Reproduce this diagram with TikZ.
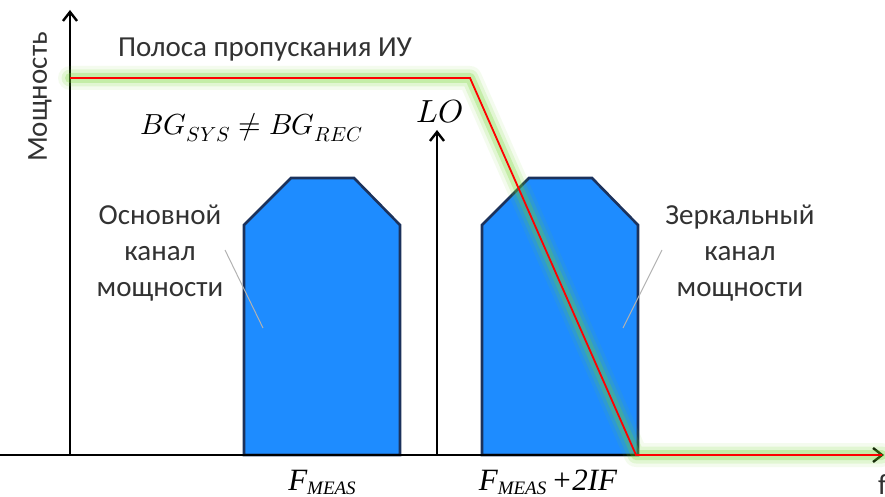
\documentclass[tikz,border=0pt]{standalone}
\usepackage{fontspec}
\usepackage{unicode-math}
\setmainfont{Liberation Serif}
\setmathfont{Latin Modern Math}
\newfontfamily\lblfont{Carlito}
\usetikzlibrary{arrows.meta}
\definecolor{chanfill}{RGB}{30,140,255}
\definecolor{chanedge}{RGB}{28,50,92}
\definecolor{glowgreen}{RGB}{110,210,40}
\definecolor{txtgray}{RGB}{50,50,50}
\tikzset{
  axis/.style={line width=2.4pt,-{Straight Barb[length=9pt,width=14pt,line width=2.4pt]}},
  chan/.style={fill=chanfill,draw=chanedge,line width=2.6pt,line join=miter},
  lbl/.style={font=\lblfont\fontsize{29}{36}\selectfont,text=txtgray,align=center,inner sep=0pt},
  leader/.style={draw=gray!60,line width=1pt},
  glow/.style={draw=glowgreen,line join=round,line cap=round},
  bandline/.style={draw=red,line width=1.8pt,line join=miter},
}
\begin{document}
\begin{tikzpicture}[x=1pt,y=-1pt]
\useasboundingbox (0,0) rectangle (885,497);
% coordinates
\coordinate (o) at (70,455);
\coordinate (ytip) at (70,10);
\coordinate (xstart) at (0,455);
\coordinate (xtip) at (884,455);
\coordinate (lob) at (437,455);
\coordinate (lot) at (437,130);
\coordinate (b0) at (70,78);
\coordinate (b1) at (470,78);
\coordinate (b2) at (636,455);
\coordinate (b3) at (882,455);
% channels
\draw[chan] (244,455) -- (244,225) -- (291,178) -- (354,178) -- (400,225) -- (400,455) -- cycle;
\draw[chan] (482,455) -- (482,225) -- (529,178) -- (592,178) -- (638,225) -- (638,455) -- cycle;
% axes
\draw[axis] (xstart) -- (xtip);
\draw[axis] (o) -- (ytip);
\draw[axis] (lob) -- (lot);
% glow band
\draw[glow,line width=24pt,opacity=0.08] (b0) -- (b1) -- (b2) -- (b3);
\draw[glow,line width=17pt,opacity=0.14] (b0) -- (b1) -- (b2) -- (b3);
\draw[glow,line width=10pt,opacity=0.25] (b0) -- (b1) -- (b2) -- (b3);
\draw[bandline] (b0) -- (b1) -- (b2) -- (b3);
% labels
\node[lbl] (band) at (265,50) {Полоса пропускания ИУ};
\node[lbl,rotate=90] (pow) at (40,97) {Мощность};
\node[lbl] (main) at (160,253) {Основной\\канал\\мощности};
\node[lbl] (image) at (740,253) {Зеркальный\\канал\\мощности};
\draw[leader] (225,250) -- (263,328);
\draw[leader] (662,250) -- (623,328);
\node[inner sep=0pt,font=\fontsize{29}{34}\selectfont] (bg) at (252,128) {$BG_{SYS}\neq BG_{REC}$};
\node[inner sep=0pt,font=\fontsize{32}{36}\selectfont] (lo) at (440,112) {$LO$};
\node[inner sep=0pt,font=\fontsize{31}{34}\selectfont\itshape,anchor=base] (fm) at (322,490) {F\raisebox{-4pt}{\fontsize{19}{20}\selectfont MEAS}};
\node[inner sep=0pt,font=\fontsize{31}{34}\selectfont\itshape,anchor=base] (fm2) at (548,490) {F\raisebox{-4pt}{\fontsize{19}{20}\selectfont MEAS}\,+2IF};
\node[lbl,anchor=base west] (f) at (878,494) {f};
\end{tikzpicture}
\end{document}
